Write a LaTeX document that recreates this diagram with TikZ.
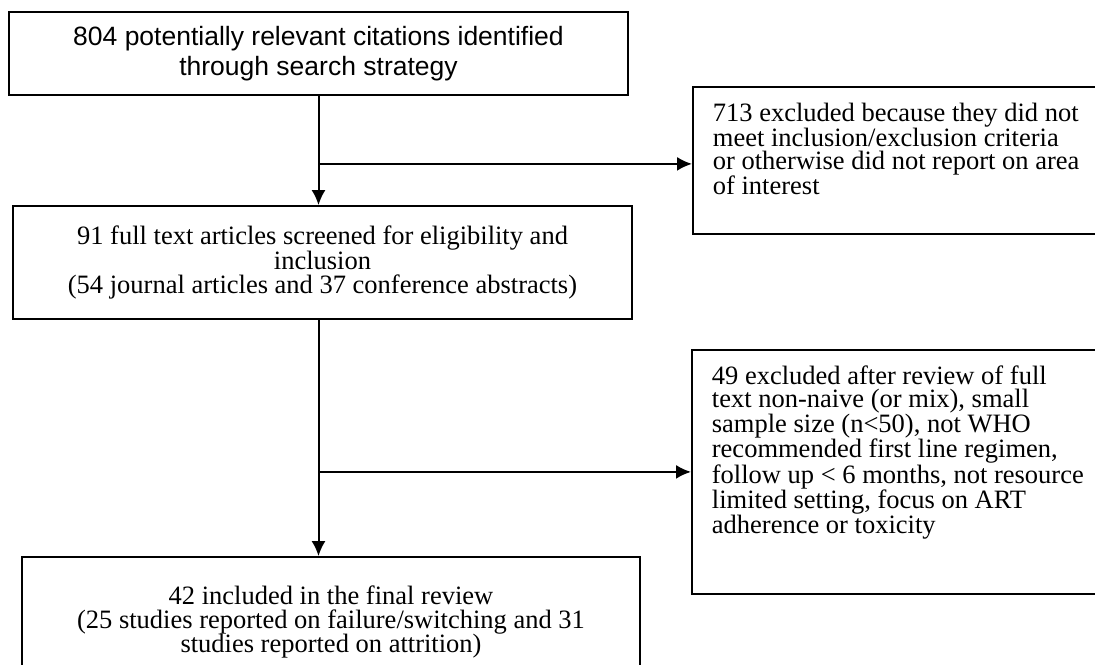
\documentclass[tikz,border=0pt]{standalone}
\usepackage{fontspec}
\setmainfont{Liberation Serif}
\newfontfamily\boxsans{Liberation Sans}
\usepackage{tikz}
\usetikzlibrary{arrows.meta}
\newcommand{\toptext}[2]{\parbox[c][#1][t]{380pt}{\raggedright #2}}
\newcommand{\tightlines}{\lineskiplimit -30pt\relax}

\begin{document}
\begin{tikzpicture}[x=1pt, y=-1pt, >={Latex[length=15pt,width=14pt]},
        flowbox/.style={draw, line width=1.8pt, inner sep=0pt, align=center,
            font=\fontsize{26.5}{24.3}\selectfont\tightlines},
        sidebox/.style={draw, line width=1.8pt, inner xsep=20pt, inner ysep=16pt,
            anchor=north west, font=\fontsize{26.5}{22.8}\selectfont\tightlines},
        link/.style={line width=2pt, ->}]
    \useasboundingbox (0,0) rectangle (1095,664);
        \node[flowbox, minimum width=619pt, minimum height=83pt,
            font=\boxsans\fontsize{26.5}{30}\selectfont] (search) at (318.5,53.5)
            {804 potentially relevant citations identified\\ through search strategy};
        \node[flowbox, minimum width=619pt, minimum height=113pt] (screen) at (322.5,262.5)
            {91 full text articles screened for eligibility and\\ inclusion\\
             (54 journal articles and 37 conference abstracts)};
        \node[flowbox, minimum width=618pt, minimum height=130pt] (final) at (331,622)
            {42 included in the final review\\
             (25 studies reported on failure/switching and 31\\ studies reported on attrition)};
        \node[sidebox] (excl1) at (692,86)
            {\toptext{115pt}{713 excluded because they did not\\ meet inclusion/exclusion criteria\\
             or otherwise did not report on area\\ of interest}};
        \node[sidebox] (excl2) at (691,349)
            {\toptext{212pt}{49 excluded after review of full\\ text non-naive (or mix), small\\
             sample size (n<50), not WHO\\ recommended first line regimen,\\
             follow up < 6 months, not resource\\ limited setting, focus on ART\\
             adherence or toxicity}};
        \coordinate (in1) at ([yshift=-3.5pt]excl1.west);
        \draw[link] (search.south) -- (search.south |- screen.north);
        \draw[link] (search.south |- in1) -- (in1);
        \draw[link] (screen.south -| search.south) -- (search.south |- final.north);
        \draw[link] (search.south |- excl2.west) -- (excl2.west);
    \end{tikzpicture}
\end{document}
